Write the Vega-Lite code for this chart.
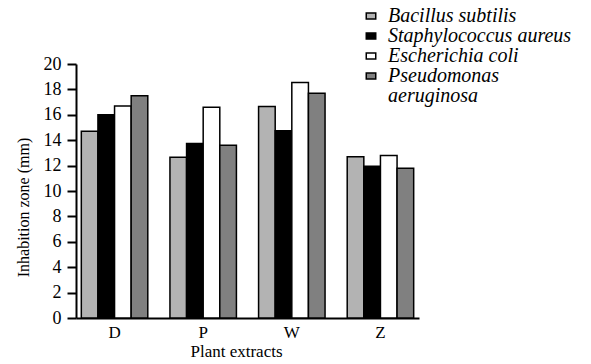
{
  "$schema": "https://vega.github.io/schema/vega-lite/v6.json",
  "autosize": "none",
  "width": 343,
  "height": 254,
  "padding": {"left": 76, "top": 64, "right": 172, "bottom": 46},
  "background": "white",
  "config": {
    "font": "Liberation Serif",
    "axis": {"labelFont": "Liberation Serif", "titleFont": "Liberation Serif"},
    "legend": {"labelFont": "Liberation Serif"},
    "view": {"stroke": null}
  },
  "data": {
    "values": [
      {"extract": "D", "bacteria": "Bacillus subtilis", "zone": 14.7},
      {"extract": "D", "bacteria": "Staphylococcus aureus", "zone": 16.0},
      {"extract": "D", "bacteria": "Escherichia coli", "zone": 16.7},
      {"extract": "D", "bacteria": "Pseudomonas aeruginosa", "zone": 17.5},
      {"extract": "P", "bacteria": "Bacillus subtilis", "zone": 12.65},
      {"extract": "P", "bacteria": "Staphylococcus aureus", "zone": 13.75},
      {"extract": "P", "bacteria": "Escherichia coli", "zone": 16.6},
      {"extract": "P", "bacteria": "Pseudomonas aeruginosa", "zone": 13.6},
      {"extract": "W", "bacteria": "Bacillus subtilis", "zone": 16.65},
      {"extract": "W", "bacteria": "Staphylococcus aureus", "zone": 14.75},
      {"extract": "W", "bacteria": "Escherichia coli", "zone": 18.55},
      {"extract": "W", "bacteria": "Pseudomonas aeruginosa", "zone": 17.7},
      {"extract": "Z", "bacteria": "Bacillus subtilis", "zone": 12.7},
      {"extract": "Z", "bacteria": "Staphylococcus aureus", "zone": 11.95},
      {"extract": "Z", "bacteria": "Escherichia coli", "zone": 12.8},
      {"extract": "Z", "bacteria": "Pseudomonas aeruginosa", "zone": 11.8}
    ]
  },
  "mark": {"type": "bar", "stroke": "black", "strokeWidth": 1.5},
  "encoding": {
    "x": {
      "field": "extract",
      "type": "nominal",
      "scale": {"paddingInner": 0.25, "paddingOuter": 0.06},
      "axis": {
        "title": "Plant extracts",
        "titleFontSize": 17,
        "titleFontWeight": "normal",
        "titleColor": "black",
        "titlePadding": 3,
        "titleX": 160,
        "labelAngle": 0,
        "labelFontSize": 17,
        "labelColor": "black",
        "labelPadding": 6,
        "ticks": false,
        "domainColor": "black",
        "domainWidth": 2
      }
    },
    "xOffset": {
      "field": "bacteria",
      "type": "nominal",
      "sort": ["Bacillus subtilis", "Staphylococcus aureus", "Escherichia coli", "Pseudomonas aeruginosa"]
    },
    "y": {
      "field": "zone",
      "type": "quantitative",
      "scale": {"domain": [0, 20], "nice": false},
      "axis": {
        "title": "Inhabition zone (mm)",
        "titleFontSize": 16,
        "titleFontWeight": "normal",
        "titleColor": "black",
        "titlePadding": 12,
        "titleY": 143,
        "values": [0, 2, 4, 6, 8, 10, 12, 14, 16, 18, 20],
        "labelFontSize": 18,
        "labelColor": "black",
        "labelPadding": 6,
        "grid": false,
        "tickSize": 9,
        "tickWidth": 2,
        "tickColor": "black",
        "domainColor": "black",
        "domainWidth": 2
      }
    },
    "fill": {
      "field": "bacteria",
      "type": "nominal",
      "sort": ["Bacillus subtilis", "Staphylococcus aureus", "Escherichia coli", "Pseudomonas aeruginosa"],
      "scale": {
        "domain": ["Bacillus subtilis", "Staphylococcus aureus", "Escherichia coli", "Pseudomonas aeruginosa"],
        "range": ["#b3b3b3", "#000000", "#ffffff", "#808080"]
      },
      "legend": {
        "title": null,
        "orient": "none",
        "legendX": 285,
        "legendY": -58,
        "symbolType": "M-1,-0.65H1V0.65H-1Z",
        "symbolSize": 90,
        "symbolStrokeColor": "black",
        "symbolStrokeWidth": 1.5,
        "labelFontStyle": "italic",
        "labelFontSize": 20,
        "labelColor": "black",
        "labelOffset": 7,
        "labelLimit": 300,
        "rowPadding": 0,
        "labelBaseline": "top",
        "labelExpr": "datum.label == 'Pseudomonas aeruginosa' ? ['Pseudomonas', 'aeruginosa'] : datum.label",
        "encode": {"labels": {"update": {"dy": {"value": -10}, "lineHeight": {"value": 20}}}}
      }
    }
  }
}
